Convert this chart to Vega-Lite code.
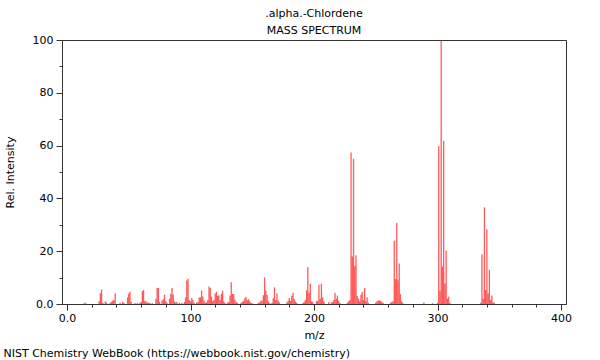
{
  "$schema": "https://vega.github.io/schema/vega-lite/v6.json",
  "width": 504,
  "height": 264,
  "autosize": "none",
  "padding": {"left": 62, "top": 40, "right": 34, "bottom": 56},
  "background": "white",
  "title": {
    "text": ".alpha.-Chlordene",
    "subtitle": "MASS SPECTRUM",
    "font": "DejaVu Sans",
    "fontSize": 11,
    "fontWeight": "normal",
    "subtitleFont": "DejaVu Sans",
    "subtitleFontSize": 11,
    "color": "black",
    "subtitleColor": "black",
    "anchor": "middle",
    "offset": -2,
    "subtitlePadding": 6
  },
  "config": {
    "view": {"stroke": "#333333", "strokeWidth": 1},
    "axis": {
      "labelFont": "DejaVu Sans",
      "labelFontSize": 11,
      "labelColor": "black",
      "titleFont": "DejaVu Sans",
      "titleFontSize": 11,
      "titleFontWeight": "normal",
      "titleColor": "black",
      "domainColor": "#333333",
      "tickColor": "#333333",
      "grid": false
    }
  },
  "data": {
    "values": [
      {"mz": 14, "intensity": 0.3}, {"mz": 15, "intensity": 0.5}, {"mz": 26, "intensity": 1.0}, {"mz": 27, "intensity": 4.1},
      {"mz": 28, "intensity": 5.5}, {"mz": 29, "intensity": 0.5}, {"mz": 31, "intensity": 1.0}, {"mz": 32, "intensity": 0.5},
      {"mz": 35, "intensity": 0.5}, {"mz": 36, "intensity": 0.8}, {"mz": 37, "intensity": 1.2}, {"mz": 38, "intensity": 1.5},
      {"mz": 39, "intensity": 4.1}, {"mz": 43, "intensity": 0.5}, {"mz": 45, "intensity": 0.8}, {"mz": 46, "intensity": 0.5},
      {"mz": 49, "intensity": 2.5}, {"mz": 50, "intensity": 4.0}, {"mz": 51, "intensity": 4.6}, {"mz": 52, "intensity": 0.8},
      {"mz": 55, "intensity": 0.4}, {"mz": 57, "intensity": 0.4}, {"mz": 59, "intensity": 0.5}, {"mz": 60, "intensity": 0.8},
      {"mz": 61, "intensity": 4.8}, {"mz": 62, "intensity": 5.3}, {"mz": 63, "intensity": 1.0}, {"mz": 64, "intensity": 1.0},
      {"mz": 65, "intensity": 0.6}, {"mz": 66, "intensity": 0.5}, {"mz": 67, "intensity": 0.4}, {"mz": 69, "intensity": 0.4},
      {"mz": 72, "intensity": 2.0}, {"mz": 73, "intensity": 6.1}, {"mz": 74, "intensity": 6.1}, {"mz": 75, "intensity": 0.8},
      {"mz": 77, "intensity": 1.3}, {"mz": 78, "intensity": 1.8}, {"mz": 79, "intensity": 3.5}, {"mz": 80, "intensity": 1.0},
      {"mz": 81, "intensity": 0.5}, {"mz": 83, "intensity": 2.0}, {"mz": 84, "intensity": 3.9}, {"mz": 85, "intensity": 6.1},
      {"mz": 86, "intensity": 3.6}, {"mz": 87, "intensity": 1.0}, {"mz": 88, "intensity": 0.5}, {"mz": 89, "intensity": 0.8},
      {"mz": 91, "intensity": 0.5}, {"mz": 93, "intensity": 0.4}, {"mz": 95, "intensity": 0.8}, {"mz": 96, "intensity": 2.5},
      {"mz": 97, "intensity": 8.9}, {"mz": 98, "intensity": 9.6}, {"mz": 99, "intensity": 1.5}, {"mz": 100, "intensity": 1.0},
      {"mz": 101, "intensity": 2.3}, {"mz": 102, "intensity": 1.5}, {"mz": 103, "intensity": 0.5}, {"mz": 105, "intensity": 0.6},
      {"mz": 106, "intensity": 0.8}, {"mz": 107, "intensity": 2.5}, {"mz": 108, "intensity": 2.5}, {"mz": 109, "intensity": 5.1},
      {"mz": 110, "intensity": 2.8}, {"mz": 111, "intensity": 1.3}, {"mz": 112, "intensity": 0.5}, {"mz": 113, "intensity": 0.6},
      {"mz": 114, "intensity": 1.5}, {"mz": 115, "intensity": 6.6}, {"mz": 116, "intensity": 6.1}, {"mz": 117, "intensity": 2.8},
      {"mz": 118, "intensity": 1.0}, {"mz": 119, "intensity": 1.5}, {"mz": 120, "intensity": 4.0}, {"mz": 121, "intensity": 4.6},
      {"mz": 122, "intensity": 3.0}, {"mz": 123, "intensity": 3.3}, {"mz": 124, "intensity": 1.5}, {"mz": 125, "intensity": 3.8},
      {"mz": 126, "intensity": 5.0}, {"mz": 127, "intensity": 1.0}, {"mz": 128, "intensity": 0.4}, {"mz": 130, "intensity": 0.5},
      {"mz": 131, "intensity": 0.8}, {"mz": 132, "intensity": 3.2}, {"mz": 133, "intensity": 8.2}, {"mz": 134, "intensity": 3.8},
      {"mz": 135, "intensity": 3.7}, {"mz": 136, "intensity": 1.6}, {"mz": 137, "intensity": 0.8}, {"mz": 138, "intensity": 0.4},
      {"mz": 141, "intensity": 0.5}, {"mz": 142, "intensity": 0.8}, {"mz": 143, "intensity": 1.2}, {"mz": 144, "intensity": 2.2},
      {"mz": 145, "intensity": 2.7}, {"mz": 146, "intensity": 1.4}, {"mz": 147, "intensity": 1.8}, {"mz": 148, "intensity": 1.0},
      {"mz": 149, "intensity": 0.5}, {"mz": 150, "intensity": 0.3}, {"mz": 155, "intensity": 0.5}, {"mz": 156, "intensity": 0.6},
      {"mz": 157, "intensity": 1.2}, {"mz": 158, "intensity": 1.3}, {"mz": 159, "intensity": 3.3}, {"mz": 160, "intensity": 10.1},
      {"mz": 161, "intensity": 5.0}, {"mz": 162, "intensity": 3.4}, {"mz": 163, "intensity": 1.0}, {"mz": 164, "intensity": 0.4},
      {"mz": 166, "intensity": 0.5}, {"mz": 167, "intensity": 2.2}, {"mz": 168, "intensity": 6.3}, {"mz": 169, "intensity": 1.5},
      {"mz": 170, "intensity": 4.1}, {"mz": 171, "intensity": 1.3}, {"mz": 172, "intensity": 0.6}, {"mz": 178, "intensity": 0.6},
      {"mz": 179, "intensity": 1.2}, {"mz": 180, "intensity": 2.3}, {"mz": 181, "intensity": 1.2}, {"mz": 182, "intensity": 3.1},
      {"mz": 183, "intensity": 4.3}, {"mz": 184, "intensity": 1.9}, {"mz": 185, "intensity": 1.0}, {"mz": 186, "intensity": 0.4},
      {"mz": 191, "intensity": 0.4}, {"mz": 192, "intensity": 0.8}, {"mz": 193, "intensity": 1.5}, {"mz": 194, "intensity": 5.2},
      {"mz": 195, "intensity": 14.0}, {"mz": 196, "intensity": 4.3}, {"mz": 197, "intensity": 7.7}, {"mz": 198, "intensity": 1.0},
      {"mz": 199, "intensity": 0.8}, {"mz": 202, "intensity": 1.0}, {"mz": 203, "intensity": 1.2}, {"mz": 204, "intensity": 7.3},
      {"mz": 205, "intensity": 2.0}, {"mz": 206, "intensity": 7.7}, {"mz": 207, "intensity": 2.5}, {"mz": 208, "intensity": 1.0},
      {"mz": 212, "intensity": 0.8}, {"mz": 214, "intensity": 0.5}, {"mz": 215, "intensity": 0.8}, {"mz": 216, "intensity": 1.5},
      {"mz": 217, "intensity": 4.3}, {"mz": 218, "intensity": 2.0}, {"mz": 219, "intensity": 3.2}, {"mz": 220, "intensity": 1.2},
      {"mz": 221, "intensity": 0.4}, {"mz": 227, "intensity": 0.5}, {"mz": 228, "intensity": 1.0}, {"mz": 229, "intensity": 1.5},
      {"mz": 230, "intensity": 57.4}, {"mz": 231, "intensity": 18.0}, {"mz": 232, "intensity": 55.0}, {"mz": 233, "intensity": 14.3},
      {"mz": 234, "intensity": 18.5}, {"mz": 235, "intensity": 3.0}, {"mz": 236, "intensity": 2.0}, {"mz": 237, "intensity": 1.0},
      {"mz": 238, "intensity": 3.5}, {"mz": 239, "intensity": 4.6}, {"mz": 240, "intensity": 1.5}, {"mz": 241, "intensity": 6.1},
      {"mz": 242, "intensity": 1.0}, {"mz": 243, "intensity": 2.6}, {"mz": 244, "intensity": 0.5}, {"mz": 250, "intensity": 0.5},
      {"mz": 251, "intensity": 1.0}, {"mz": 252, "intensity": 1.3}, {"mz": 253, "intensity": 1.3}, {"mz": 254, "intensity": 1.2},
      {"mz": 255, "intensity": 0.8}, {"mz": 256, "intensity": 0.4}, {"mz": 262, "intensity": 0.5}, {"mz": 263, "intensity": 0.8},
      {"mz": 264, "intensity": 1.0}, {"mz": 265, "intensity": 24.0}, {"mz": 266, "intensity": 9.4}, {"mz": 267, "intensity": 30.7},
      {"mz": 268, "intensity": 9.0}, {"mz": 269, "intensity": 15.3}, {"mz": 270, "intensity": 3.7}, {"mz": 271, "intensity": 1.0},
      {"mz": 272, "intensity": 0.4}, {"mz": 289, "intensity": 0.6}, {"mz": 296, "intensity": 0.3}, {"mz": 300, "intensity": 0.5},
      {"mz": 301, "intensity": 59.8}, {"mz": 302, "intensity": 5.0}, {"mz": 303, "intensity": 100}, {"mz": 304, "intensity": 14.2},
      {"mz": 305, "intensity": 61.7}, {"mz": 306, "intensity": 7.8}, {"mz": 307, "intensity": 20.3}, {"mz": 308, "intensity": 2.0},
      {"mz": 309, "intensity": 2.8}, {"mz": 310, "intensity": 0.5}, {"mz": 335, "intensity": 0.5}, {"mz": 336, "intensity": 18.8},
      {"mz": 337, "intensity": 2.0}, {"mz": 338, "intensity": 36.6}, {"mz": 339, "intensity": 5.3}, {"mz": 340, "intensity": 28.3},
      {"mz": 341, "intensity": 4.0}, {"mz": 342, "intensity": 13.0}, {"mz": 343, "intensity": 1.5}, {"mz": 344, "intensity": 3.2},
      {"mz": 345, "intensity": 0.6}, {"mz": 346, "intensity": 0.5}
    ]
  },
  "layer": [
    {
      "mark": {"type": "bar", "size": 1.3, "color": "#ff0000", "opacity": 0.65},
      "encoding": {
        "x": {
          "field": "mz",
          "type": "quantitative",
          "scale": {"domain": [0, 400], "nice": false, "zero": false},
          "axis": {
            "orient": "bottom",
            "values": [0, 100, 200, 300, 400],
            "tickSize": 6,
            "labelPadding": 2,
            "title": "m/z",
            "titlePadding": 6,
            "labelExpr": "datum.value == 0 ? '0.0' : datum.label",
            "labelFlush": false,
            "labelAlign": "center"
          }
        },
        "y": {
          "field": "intensity",
          "type": "quantitative",
          "scale": {"domain": [0, 100], "nice": false},
          "axis": {
            "orient": "left",
            "values": [0, 20, 40, 60, 80, 100],
            "tickSize": 6,
            "labelPadding": 3,
            "title": "Rel. Intensity",
            "titlePadding": 17,
            "labelExpr": "datum.value == 0 ? '0.0' : datum.label"
          }
        }
      }
    },
    {
      "mark": {"type": "bar", "size": 1.3, "opacity": 0},
      "encoding": {
        "x": {
          "field": "mz",
          "type": "quantitative",
          "axis": {
            "orient": "bottom",
            "values": [20, 40, 60, 80, 120, 140, 160, 180, 220, 240, 260, 280, 320, 340, 360, 380],
            "tickSize": 3,
            "labels": false,
            "domain": false,
            "title": "NIST Chemistry WebBook (https://webbook.nist.gov/chemistry)",
            "titleX": -59,
            "titleY": 52,
            "titleAlign": "left",
            "titleAnchor": "start",
            "titleBaseline": "alphabetic"
          }
        },
        "y": {
          "field": "intensity",
          "type": "quantitative",
          "axis": {
            "orient": "left",
            "values": [10, 30, 50, 70, 90],
            "tickSize": 3,
            "labels": false,
            "domain": false,
            "title": null
          }
        }
      }
    }
  ],
  "resolve": {"axis": {"x": "independent", "y": "independent"}}
}
